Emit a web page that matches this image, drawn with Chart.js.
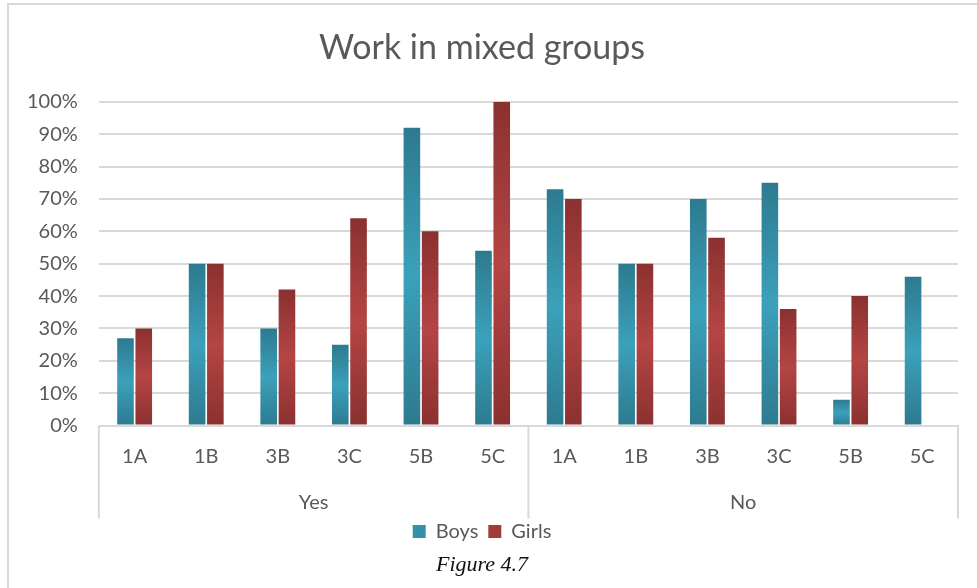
<!DOCTYPE html>
<html lang="en">
<head>
  <meta charset="UTF-8">
  <title>Work in mixed groups</title>
  <script src="https://cdn.jsdelivr.net/npm/chart.js"></script>
  <style>
    body { margin: 0; background: #fff; }
    .frame { position: absolute; left: 7px; top: 3px; width: 1000px; height: 620px; border: 2px solid #d9d9d9; }
    .wrap { position: absolute; left: 0; top: 0; width: 977px; height: 588px; }
  </style>
</head>
<body>
  <div class="frame"></div>
  <div class="wrap"><canvas id="grafico" width="977" height="588"></canvas></div>

<script>
  // categorias (turmas) e grupos de resposta
  const turmas = ['1A', '1B', '3B', '3C', '5B', '5C', '1A', '1B', '3B', '3C', '5B', '5C'];
  const grupos = ['Yes', 'No'];
  const turmasPorGrupo = 6;

  // percentuais
  const boys = [27, 50, 30, 25, 92, 54, 73, 50, 70, 75, 8, 46];
  const girls = [30, 50, 42, 64, 60, 100, 70, 50, 58, 36, 40, null];

  const yTicks = [0, 10, 20, 30, 40, 50, 60, 70, 80, 90, 100];

  const cinza = '#595959';
  const linha = '#d9d9d9';

  // degradê vertical em cada barra (escuro em cima e embaixo, claro no meio)
  function degrade(escuro, claro) {
    return function (context) {
      const chart = context.chart;
      const y = chart.scales.y;
      if (context.type !== 'data' || !y || context.raw == null) return claro;
      const topo = y.getPixelForValue(context.raw);
      const base = y.getPixelForValue(0);
      if (!isFinite(topo) || base - topo < 1) return escuro;
      const g = chart.ctx.createLinearGradient(0, topo, 0, base);
      g.addColorStop(0, escuro);
      g.addColorStop(0.5, claro);
      g.addColorStop(1, escuro);
      return g;
    };
  }

  // linhas de separação e rótulos Yes / No embaixo do eixo
  const gruposEixo = {
    id: 'gruposEixo',
    afterDraw(chart) {
      const x = chart.scales.x;
      const ctx = chart.ctx;
      const passo = x.getPixelForValue(1) - x.getPixelForValue(0);
      const base = chart.chartArea.bottom;
      ctx.save();
      ctx.strokeStyle = linha;
      ctx.lineWidth = 2;
      for (let i = 0; i <= grupos.length; i++) {
        const px = x.getPixelForValue(i * turmasPorGrupo) - passo / 2;
        ctx.beginPath();
        ctx.moveTo(px, base);
        ctx.lineTo(px, base + 93);
        ctx.stroke();
      }
      ctx.fillStyle = cinza;
      ctx.font = '20px Lato';
      ctx.textAlign = 'center';
      ctx.textBaseline = 'middle';
      grupos.forEach((nome, i) => {
        const ini = x.getPixelForValue(i * turmasPorGrupo) - passo / 2;
        const fim = x.getPixelForValue((i + 1) * turmasPorGrupo) - passo / 2;
        ctx.fillText(nome, (ini + fim) / 2, base + 77);
      });
      ctx.restore();
    }
  };

  const ctx = document.getElementById('grafico');

  new Chart(ctx, {
    type: 'bar',
    data: {
      labels: turmas,
      datasets: [{
        label: 'Boys',
        data: boys,
        backgroundColor: degrade('#2d7a8f', '#3ba1ba'),
        borderWidth: 0
      }, {
        label: 'Girls',
        data: girls,
        backgroundColor: degrade('#8a3130', '#b44544'),
        borderWidth: 0
      }]
    },
    options: {
      responsive: false,
      animation: false,
      categoryPercentage: 0.51,
      barPercentage: 0.91,
      layout: { padding: { left: 6, right: 19, top: 12, bottom: 0 } },
      plugins: {
        title: {
          display: true,
          text: 'Work in mixed groups',
          color: cinza,
          font: { family: 'Lato', size: 34, weight: 'normal' },
          padding: { top: 16, bottom: 33 }
        },
        subtitle: {
          display: true,
          position: 'bottom',
          text: 'Figure 4.7',
          color: '#111',
          font: { family: '"Liberation Serif"', size: 22, style: 'italic', weight: 'normal' },
          padding: { top: 0, bottom: 10 }
        },
        legend: {
          position: 'bottom',
          labels: {
            color: cinza,
            font: { family: 'Lato', size: 20 },
            boxWidth: 13,
            boxHeight: 13,
            padding: 10,
            generateLabels(chart) {
              const cores = ['#3590a8', '#a23c3b'];
              return chart.data.datasets.map((ds, i) => ({
                text: ds.label,
                fillStyle: cores[i],
                strokeStyle: cores[i],
                lineWidth: 0,
                fontColor: cinza,
                datasetIndex: i,
                hidden: false
              }));
            }
          }
        },
        tooltip: { enabled: false }
      },
      scales: {
        x: {
          grid: { display: false },
          border: { color: linha, width: 2 },
          ticks: {
            color: cinza,
            font: { family: 'Lato', size: 20 },
            padding: 11,
            autoSkip: false,
            maxRotation: 0
          },
          afterFit(scale) { scale.height = 86; }
        },
        y: {
          min: 0,
          max: 100,
          afterBuildTicks(scale) { scale.ticks = yTicks.map(v => ({ value: v })); },
          grid: { color: linha, lineWidth: 2, drawTicks: false },
          border: { display: false },
          ticks: {
            color: cinza,
            font: { family: 'Lato', size: 20 },
            padding: 21,
            callback: v => v + '%'
          }
        }
      }
    },
    plugins: [gruposEixo]
  });
</script>
</body>
</html>
